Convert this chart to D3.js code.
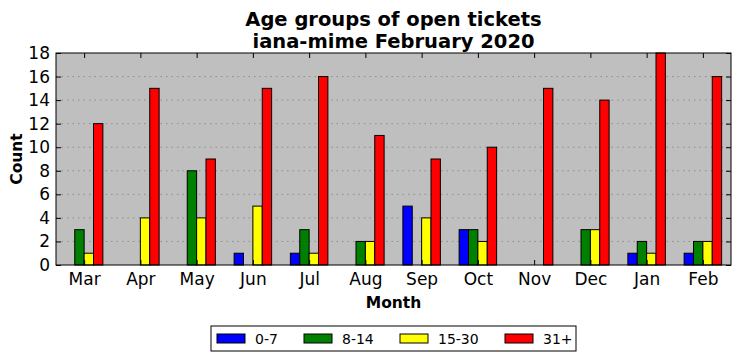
<html>
  <head>
    <script src="https://cdnjs.cloudflare.com/ajax/libs/d3/7.8.5/d3.min.js"></script>
    <style>
      body { margin: 0; background: #fff; }
      svg { display: block; font-family: 'DejaVu Sans', sans-serif; }
      .axis path, .axis line { stroke: #000; }
    </style>
  </head>
  <body>
    <svg id="chart"></svg>
    <script>
      // data
      const months = ['Mar', 'Apr', 'May', 'Jun', 'Jul', 'Aug', 'Sep', 'Oct', 'Nov', 'Dec', 'Jan', 'Feb'];
      const groups = ['0-7', '8-14', '15-30', '31+'];
      const colors = ['#0000ff', '#008000', '#ffff00', '#ff0000'];
      const days0to7   = [0, 0, 0, 1, 1, 0, 5, 3, 0, 0, 1, 1];
      const days8to14  = [3, 0, 8, 0, 3, 2, 0, 3, 0, 3, 2, 2];
      const days15to30 = [1, 4, 4, 5, 1, 2, 4, 2, 0, 3, 1, 2];
      const days31plus = [12, 15, 9, 15, 16, 11, 9, 10, 15, 14, 18, 16];
      const yTicks = [0, 2, 4, 6, 8, 10, 12, 14, 16, 18];

      const series = [days0to7, days8to14, days15to30, days31plus];

      const W = 741, H = 361;
      const margin = {top: 53, right: 10, bottom: 96, left: 56};
      const width = W - margin.left - margin.right;
      const height = H - margin.top - margin.bottom;

      const svg = d3.select('#chart').attr('width', W).attr('height', H);
      const g = svg.append('g')
        .attr('transform', 'translate(' + margin.left + ',' + margin.top + ')');

      const x = d3.scaleLinear().domain([-0.5, months.length - 0.5]).range([0, width]);
      const y = d3.scaleLinear().domain([0, 18]).range([height, 0]);
      const barW = 1 / 6;

      // plot background
      g.append('rect')
        .attr('width', width).attr('height', height)
        .attr('fill', '#bfbfbf');

      // dotted grid
      g.append('g').selectAll('line')
        .data(yTicks.slice(1, -1))
        .enter().append('line')
        .attr('x1', 0).attr('x2', width)
        .attr('y1', d => y(d)).attr('y2', d => y(d))
        .attr('stroke', '#808080')
        .attr('stroke-width', 0.8)
        .attr('stroke-dasharray', '1.5,4');

      // bars
      series.forEach((vals, s) => {
        g.append('g').selectAll('rect')
          .data(vals)
          .enter().append('rect')
          .attr('x', (d, i) => x(i + (s - 2) * barW))
          .attr('y', d => y(d))
          .attr('width', x(barW) - x(0))
          .attr('height', d => y(0) - y(d))
          .attr('fill', colors[s])
          .attr('stroke', '#000')
          .attr('stroke-width', 1);
      });

      // axes, ticks pointing inward
      const monthIdx = months.map((m, i) => i);
      g.append('g')
        .attr('class', 'axis')
        .attr('transform', 'translate(0,' + height + ')')
        .call(d3.axisBottom(x).tickValues(monthIdx).tickFormat(i => months[i])
          .tickSizeInner(-5).tickSizeOuter(0).tickPadding(8))
        .call(a => a.select('.domain').remove())
        .selectAll('text').attr('font-size', 17).attr('font-family', 'DejaVu Sans');

      g.append('g')
        .attr('class', 'axis')
        .call(d3.axisTop(x).tickValues(monthIdx).tickFormat('')
          .tickSizeInner(-5).tickSizeOuter(0))
        .call(a => a.select('.domain').remove());

      g.append('g')
        .attr('class', 'axis')
        .call(d3.axisLeft(y).tickValues(yTicks)
          .tickSizeInner(-5).tickSizeOuter(0).tickPadding(6))
        .call(a => a.select('.domain').remove())
        .selectAll('text').attr('font-size', 17).attr('font-family', 'DejaVu Sans');

      g.append('g')
        .attr('class', 'axis')
        .attr('transform', 'translate(' + width + ',0)')
        .call(d3.axisRight(y).tickValues(yTicks).tickFormat('')
          .tickSizeInner(-5).tickSizeOuter(0))
        .call(a => a.select('.domain').remove());

      // frame
      g.append('rect')
        .attr('width', width).attr('height', height)
        .attr('fill', 'none').attr('stroke', '#000').attr('stroke-width', 1);

      // title
      const title = svg.append('text')
        .attr('text-anchor', 'middle')
        .attr('font-size', 19.5).attr('font-weight', 'bold');
      title.append('tspan').attr('x', margin.left + width / 2).attr('y', 26).text('Age groups of open tickets');
      title.append('tspan').attr('x', margin.left + width / 2).attr('y', 48).text('iana-mime February 2020');

      // axis labels
      svg.append('text')
        .attr('x', margin.left + width / 2).attr('y', 308)
        .attr('text-anchor', 'middle')
        .attr('font-size', 15.5).attr('font-weight', 'bold')
        .text('Month');

      svg.append('text')
        .attr('transform', 'translate(22,' + (margin.top + height / 2) + ') rotate(-90)')
        .attr('text-anchor', 'middle')
        .attr('font-size', 15.5).attr('font-weight', 'bold')
        .text('Count');

      // legend
      const legend = svg.append('g').attr('transform', 'translate(211,326)');
      legend.append('rect')
        .attr('width', 365).attr('height', 25)
        .attr('fill', '#fff').attr('stroke', '#000').attr('stroke-width', 1);
      const itemX = [6, 93, 189, 294];
      const item = legend.selectAll('.item')
        .data(groups)
        .enter().append('g')
        .attr('transform', (d, i) => 'translate(' + itemX[i] + ',0)');
      item.append('rect')
        .attr('x', 0).attr('y', 8).attr('width', 28).attr('height', 9)
        .attr('fill', (d, i) => colors[i])
        .attr('stroke', '#000').attr('stroke-width', 1);
      item.append('text')
        .attr('x', 38).attr('y', 17.5)
        .attr('font-size', 14)
        .text(d => d);
    </script>
  </body>
</html>
